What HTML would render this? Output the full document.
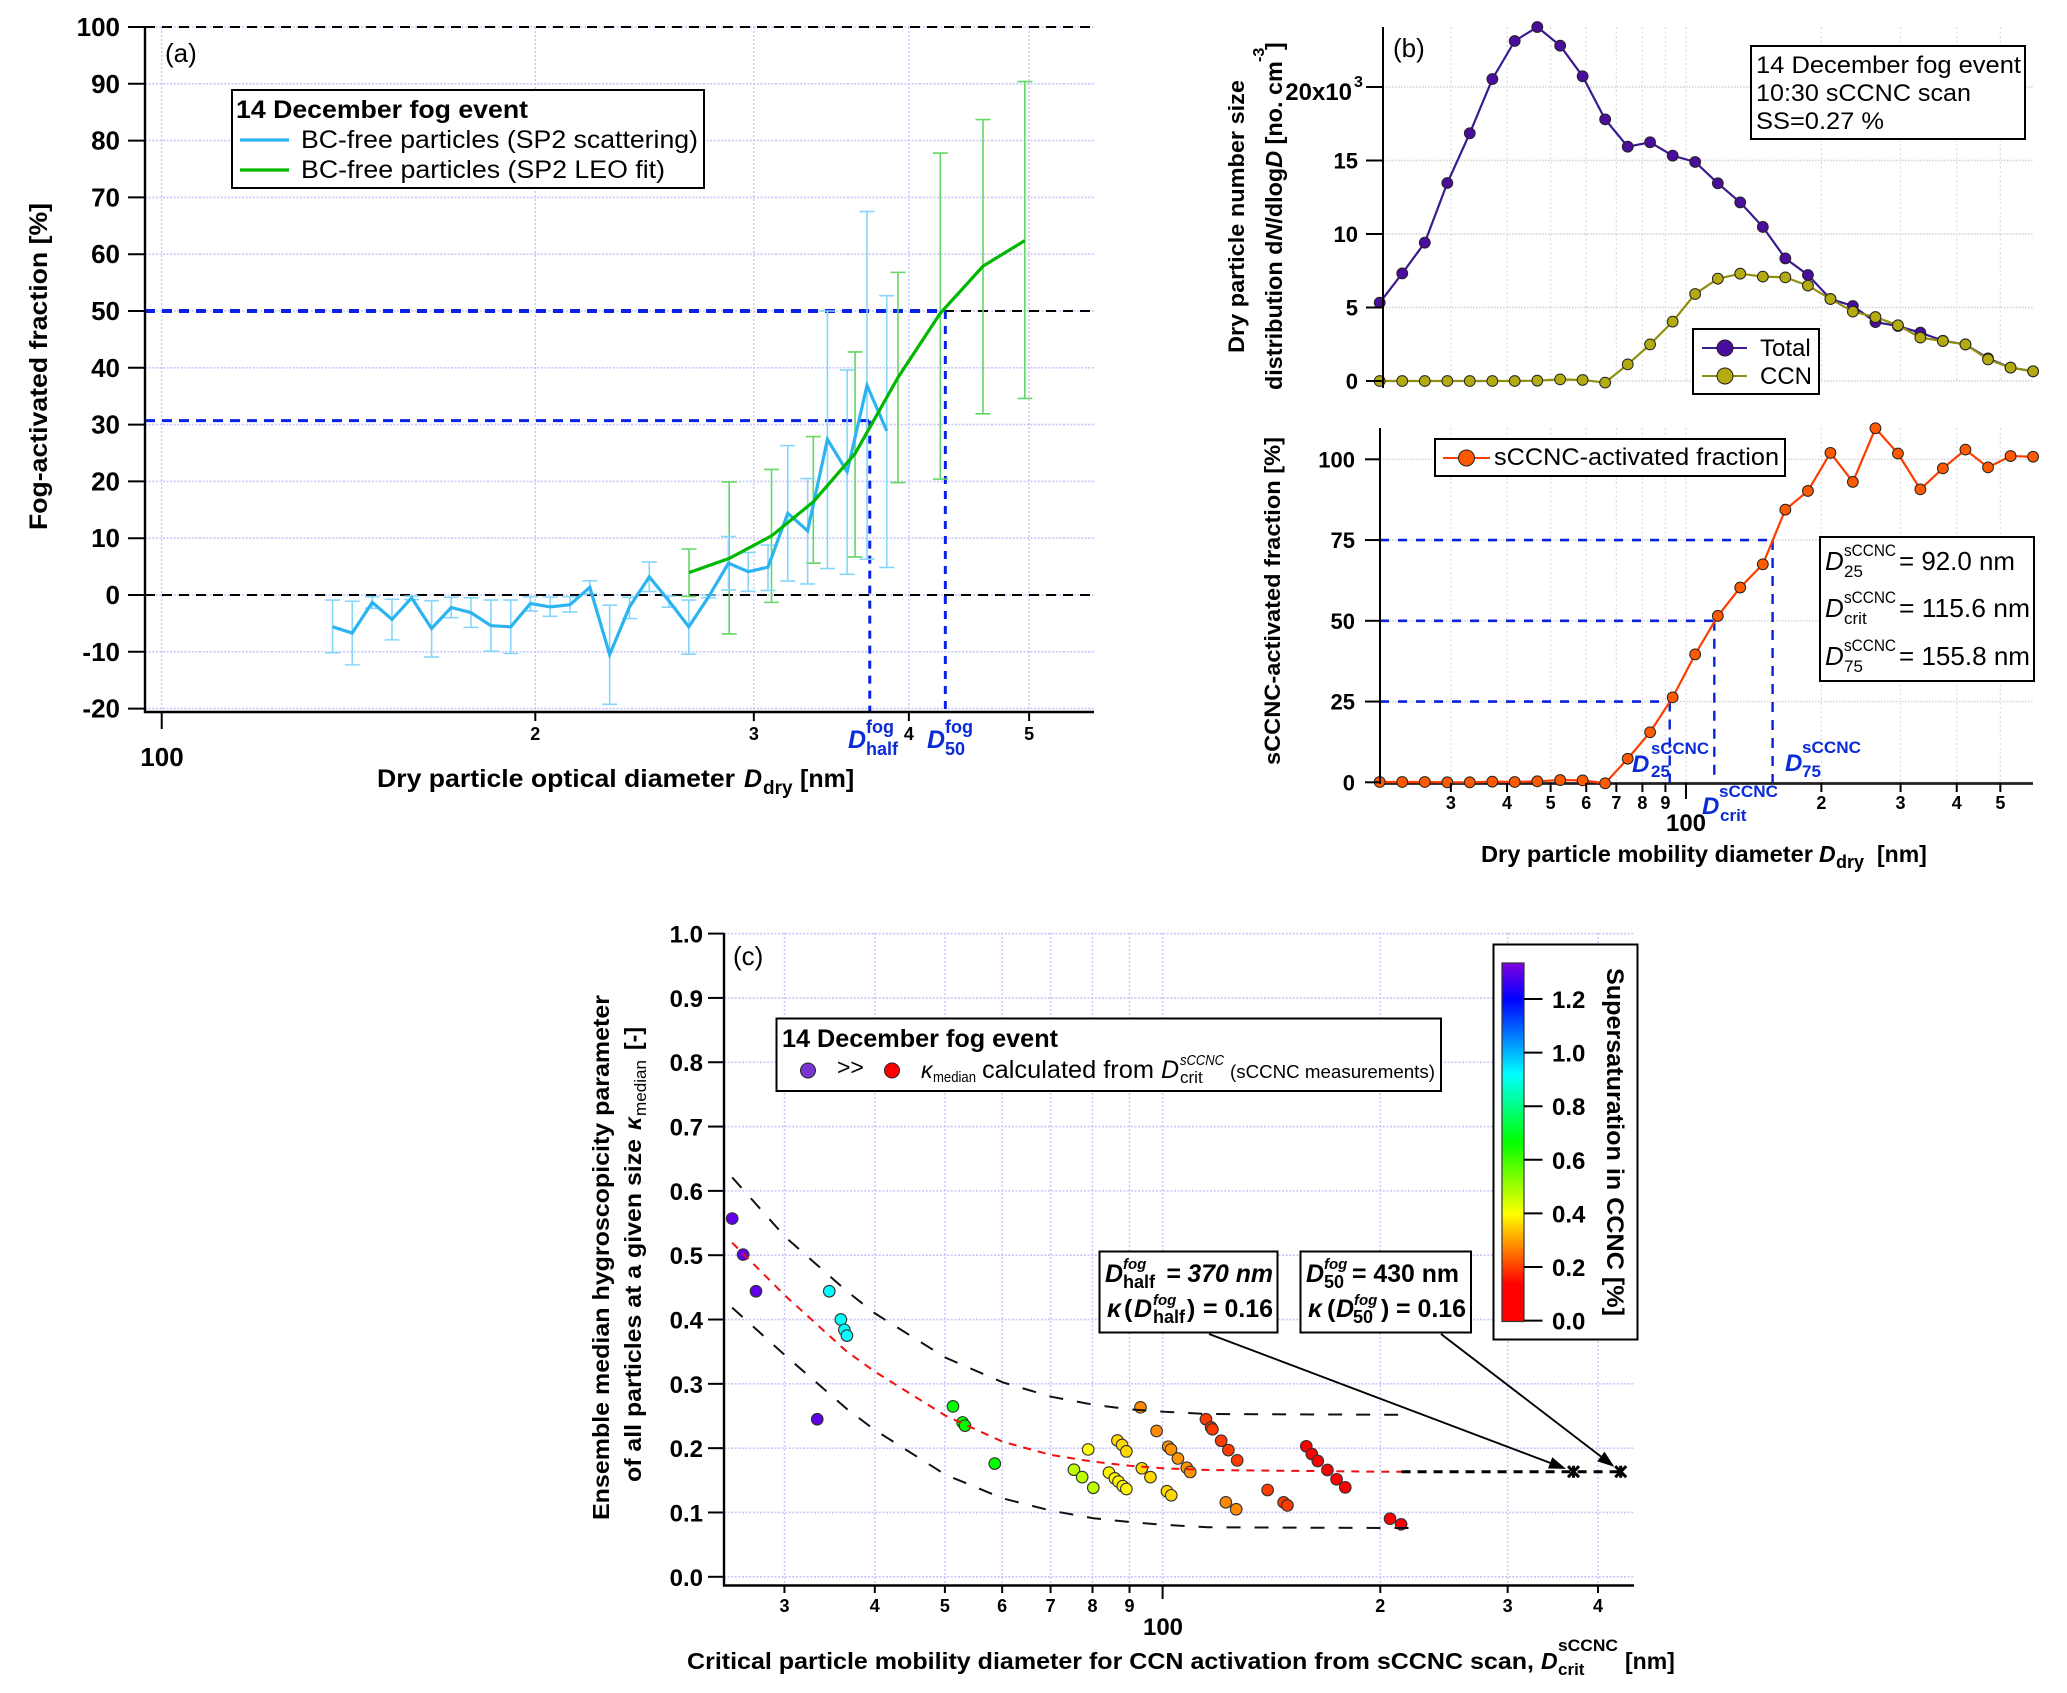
<!DOCTYPE html>
<html lang="en">
<head>
<meta charset="utf-8">
<title>Fog activation figure</title>
<style>
html,body{margin:0;padding:0;background:#fff;}
svg{display:block;font-family:"Liberation Sans",sans-serif;fill:#000;}
.b{font-weight:bold;}
.i{font-style:italic;}
.bi{font-weight:bold;font-style:italic;}
.blue{fill:#0b2bd6;}
</style>
</head>
<body>
<svg id="fig" xmlns="http://www.w3.org/2000/svg" width="2067" height="1693" viewBox="0 0 2067 1693">
<defs>
<linearGradient id="ssGrad" x1="0" y1="1" x2="0" y2="0"></linearGradient>
</defs>
<rect x="0" y="0" width="2067" height="1693" fill="#fff"/>

<g id="panelA"></g>
<g id="panelB1"></g>
<g id="panelB2"></g>
<g id="panelC"></g>

<!-- panel (a) text -->
<g>
<text x="165" y="62" font-size="26">(a)</text>
<text class="b" font-size="25" transform="translate(47,530) rotate(-90)" textLength="327" lengthAdjust="spacingAndGlyphs">Fog-activated fraction [%]</text>
<text class="b" x="377" y="787" font-size="25" textLength="358" lengthAdjust="spacingAndGlyphs">Dry particle optical diameter</text>
<text class="bi" x="744" y="787" font-size="25">D</text>
<text class="b" x="763" y="794" font-size="19">dry</text>
<text class="b" x="800" y="787" font-size="25">[nm]</text>
<text class="b" x="162" y="766" font-size="26" text-anchor="middle">100</text>
<g class="blue">
<text class="bi" x="848" y="748" font-size="25">D</text>
<text class="b" x="866" y="733" font-size="18">fog</text>
<text class="b" x="866" y="755" font-size="18">half</text>
</g>
<g class="blue">
<text class="bi" x="927" y="748" font-size="25">D</text>
<text class="b" x="945" y="733" font-size="18">fog</text>
<text class="b" x="945" y="755" font-size="18">50</text>
</g>
</g>
<g>
<rect x="232" y="90" width="472" height="98" fill="#fff" stroke="#000" stroke-width="2"/>
<text class="b" x="236" y="118" font-size="25" textLength="292" lengthAdjust="spacingAndGlyphs">14 December fog event</text>
<line x1="240" x2="289" y1="140" y2="140" stroke="#2cb4f0" stroke-width="3.2"/>
<text x="301" y="148" font-size="25" textLength="397" lengthAdjust="spacingAndGlyphs">BC-free particles (SP2 scattering)</text>
<line x1="240" x2="289" y1="170" y2="170" stroke="#00b800" stroke-width="3.2"/>
<text x="301" y="178" font-size="25" textLength="364" lengthAdjust="spacingAndGlyphs">BC-free particles (SP2 LEO fit)</text>
</g>

<!-- panel (b) text -->
<g>
<text x="1393" y="57" font-size="26">(b)</text>
<text class="b" font-size="22" transform="translate(1244,353) rotate(-90)" textLength="273" lengthAdjust="spacingAndGlyphs">Dry particle number size</text>
<text class="b" font-size="23.4" transform="translate(1282,390) rotate(-90)">distribution d<tspan class="bi">N</tspan>/dlog<tspan class="bi">D</tspan> [no. cm</text>
<text class="b" font-size="16" transform="translate(1264,62) rotate(-90)">-3</text>
<text class="b" font-size="23" transform="translate(1282,50) rotate(-90)">]</text>
<text class="b" font-size="22" transform="translate(1280,765) rotate(-90)" textLength="328" lengthAdjust="spacingAndGlyphs">sCCNC-activated fraction [%]</text>
<text class="b" x="1481" y="862" font-size="23" textLength="332" lengthAdjust="spacingAndGlyphs">Dry particle mobility diameter</text>
<text class="bi" x="1819" y="862" font-size="23">D</text>
<text class="b" x="1836" y="868" font-size="18">dry</text>
<text class="b" x="1877" y="862" font-size="23">[nm]</text>
<text class="b" x="1686" y="831" font-size="24" text-anchor="middle">100</text>
<g class="blue">
<text class="bi" x="1632" y="772" font-size="24">D</text>
<text class="b" x="1651" y="754" font-size="17" textLength="58" lengthAdjust="spacingAndGlyphs">sCCNC</text>
<text class="b" x="1651" y="777" font-size="17">25</text>
</g>
<g class="blue">
<text class="bi" x="1702" y="814" font-size="24">D</text>
<text class="b" x="1719" y="797" font-size="17" textLength="59" lengthAdjust="spacingAndGlyphs">sCCNC</text>
<text class="b" x="1720" y="821" font-size="17">crit</text>
</g>
<g class="blue">
<text class="bi" x="1785" y="771" font-size="24">D</text>
<text class="b" x="1802" y="753" font-size="17" textLength="59" lengthAdjust="spacingAndGlyphs">sCCNC</text>
<text class="b" x="1802" y="777" font-size="17">75</text>
</g>
</g>
<g>
<rect x="1751" y="46" width="274" height="93" fill="#fff" stroke="#000" stroke-width="2"/>
<text x="1756" y="73" font-size="24" textLength="265" lengthAdjust="spacingAndGlyphs">14 December fog event</text>
<text x="1756" y="101" font-size="24" textLength="215" lengthAdjust="spacingAndGlyphs">10:30 sCCNC scan</text>
<text x="1756" y="129" font-size="24" textLength="128" lengthAdjust="spacingAndGlyphs">SS=0.27 %</text>
</g>
<g>
<rect x="1693" y="329" width="126" height="65" fill="#fff" stroke="#000" stroke-width="2"/>
<line x1="1702" x2="1747" y1="348" y2="348" stroke="#3b1a90" stroke-width="2"/>
<circle cx="1725" cy="348" r="8" fill="#4a0d9e" stroke="#222" stroke-width="1"/>
<text x="1760" y="356" font-size="24">Total</text>
<line x1="1702" x2="1747" y1="376" y2="376" stroke="#8f8f10" stroke-width="2"/>
<circle cx="1725" cy="376" r="8" fill="#b3ab10" stroke="#222" stroke-width="1"/>
<text x="1760" y="384" font-size="24">CCN</text>
</g>
<g>
<rect x="1435" y="439" width="350" height="37" fill="#fff" stroke="#000" stroke-width="2"/>
<line x1="1443" x2="1490" y1="458" y2="458" stroke="#ff3c00" stroke-width="2"/>
<circle cx="1466.5" cy="458" r="8" fill="#ff5a00" stroke="#222" stroke-width="1"/>
<text x="1494" y="465" font-size="24" textLength="285" lengthAdjust="spacingAndGlyphs">sCCNC-activated fraction</text>
</g>
<g>
<rect x="1820" y="537" width="214" height="144" fill="#fff" stroke="#000" stroke-width="2"/>
<g>
<text class="i" x="1825" y="570" font-size="26">D</text>
<text x="1844" y="556" font-size="17" textLength="52" lengthAdjust="spacingAndGlyphs">sCCNC</text>
<text x="1844" y="577" font-size="17">25</text>
<text x="1899" y="570" font-size="26" textLength="116" lengthAdjust="spacingAndGlyphs">= 92.0 nm</text>
</g>
<g>
<text class="i" x="1825" y="617" font-size="26">D</text>
<text x="1844" y="603" font-size="17" textLength="52" lengthAdjust="spacingAndGlyphs">sCCNC</text>
<text x="1844" y="624" font-size="17">crit</text>
<text x="1899" y="617" font-size="26" textLength="131" lengthAdjust="spacingAndGlyphs">= 115.6 nm</text>
</g>
<g>
<text class="i" x="1825" y="665" font-size="26">D</text>
<text x="1844" y="651" font-size="17" textLength="52" lengthAdjust="spacingAndGlyphs">sCCNC</text>
<text x="1844" y="672" font-size="17">75</text>
<text x="1899" y="665" font-size="26" textLength="131" lengthAdjust="spacingAndGlyphs">= 155.8 nm</text>
</g>
</g>

<!-- panel (c) text -->
<g>
<text x="733" y="965" font-size="26">(c)</text>
<text class="b" font-size="23" transform="translate(609,1520) rotate(-90)" textLength="525" lengthAdjust="spacingAndGlyphs">Ensemble median hygroscopicity parameter</text>
<text class="b" font-size="23" transform="translate(641,1482) rotate(-90)" textLength="343" lengthAdjust="spacingAndGlyphs">of all particles at a given size</text>
<text class="bi" font-size="23" transform="translate(641,1130) rotate(-90)">κ</text>
<text font-size="17" transform="translate(646,1116) rotate(-90)" textLength="56" lengthAdjust="spacingAndGlyphs">median</text>
<text class="b" font-size="23" transform="translate(641,1050) rotate(-90)">[-]</text>
<text class="b" x="687" y="1669" font-size="23" textLength="847" lengthAdjust="spacingAndGlyphs">Critical particle mobility diameter for CCN activation from sCCNC scan,</text>
<text class="bi" x="1541" y="1669" font-size="23">D</text>
<text class="b" x="1558" y="1651" font-size="17" textLength="60" lengthAdjust="spacingAndGlyphs">sCCNC</text>
<text class="b" x="1558" y="1675" font-size="17">crit</text>
<text class="b" x="1625" y="1669" font-size="23">[nm]</text>
<text class="b" x="1163" y="1635" font-size="24" text-anchor="middle">100</text>
</g>
<g>
<rect x="776.5" y="1018.5" width="664.5" height="72.5" fill="#fff" stroke="#000" stroke-width="2"/>
<text class="b" x="782" y="1047" font-size="25" textLength="276" lengthAdjust="spacingAndGlyphs">14 December fog event</text>
<circle cx="808" cy="1070.5" r="7.5" fill="#7b35d0" stroke="#222" stroke-width="1"/>
<text x="837" y="1075" font-size="23">&gt;&gt;</text>
<circle cx="892" cy="1070.5" r="7.5" fill="#ff0000" stroke="#222" stroke-width="1"/>
<text class="i" x="921" y="1078" font-size="23">κ</text>
<text x="933" y="1082" font-size="15" textLength="43" lengthAdjust="spacingAndGlyphs">median</text>
<text x="982" y="1078" font-size="25" textLength="172" lengthAdjust="spacingAndGlyphs">calculated from</text>
<text class="i" x="1161" y="1078" font-size="25">D</text>
<text class="i" x="1180" y="1065" font-size="15" textLength="44" lengthAdjust="spacingAndGlyphs">sCCNC</text>
<text x="1180" y="1083" font-size="17">crit</text>
<text x="1230" y="1078" font-size="18" textLength="205" lengthAdjust="spacingAndGlyphs">(sCCNC measurements)</text>
</g>

<g id="panelCTop"></g>

<g>
<rect x="1099.5" y="1251.5" width="178" height="81" fill="#fff" stroke="#000" stroke-width="2"/>
<text class="bi" x="1105" y="1282" font-size="25">D</text>
<text class="bi" x="1123" y="1269" font-size="15">fog</text>
<text class="b" x="1123" y="1288" font-size="18">half</text>
<text class="bi" x="1166" y="1282" font-size="25" textLength="107" lengthAdjust="spacingAndGlyphs">= 370 nm</text>
<text class="bi" x="1107" y="1317" font-size="25">κ</text>
<text class="b" x="1124" y="1317" font-size="25">(</text>
<text class="bi" x="1134" y="1317" font-size="25">D</text>
<text class="bi" x="1153" y="1305" font-size="15">fog</text>
<text class="b" x="1153" y="1323" font-size="18">half</text>
<text class="b" x="1187" y="1317" font-size="25">)</text>
<text class="b" x="1203" y="1317" font-size="25" textLength="70" lengthAdjust="spacingAndGlyphs">= 0.16</text>
</g>
<g>
<rect x="1300.5" y="1251.5" width="170.5" height="81" fill="#fff" stroke="#000" stroke-width="2"/>
<text class="bi" x="1306" y="1282" font-size="25">D</text>
<text class="bi" x="1324" y="1269" font-size="15">fog</text>
<text class="b" x="1324" y="1288" font-size="18">50</text>
<text class="b" x="1352" y="1282" font-size="25" textLength="107" lengthAdjust="spacingAndGlyphs">= 430 nm</text>
<text class="bi" x="1308" y="1317" font-size="25">κ</text>
<text class="b" x="1327" y="1317" font-size="25">(</text>
<text class="bi" x="1336" y="1317" font-size="25">D</text>
<text class="bi" x="1354" y="1305" font-size="15">fog</text>
<text class="b" x="1353" y="1323" font-size="18">50</text>
<text class="b" x="1381" y="1317" font-size="25">)</text>
<text class="b" x="1396" y="1317" font-size="25" textLength="70" lengthAdjust="spacingAndGlyphs">= 0.16</text>
</g>

<g>
<rect x="1493.5" y="944.5" width="144" height="395" fill="#fff" stroke="#000" stroke-width="2"/>
<rect x="1502" y="963" width="22" height="358.5" fill="url(#ssGrad)" stroke="#333" stroke-width="1.2"/>
<g id="cbarTicks"></g>
<text class="b" font-size="24" transform="translate(1607,968) rotate(90)" textLength="348" lengthAdjust="spacingAndGlyphs">Supersaturation in CCNC [%]</text>
</g>
</svg>

<script>
// ---------- Panel (a) data ----------
const aYTicks = [-20,-10,0,10,20,30,40,50,60,70,80,90,100];
const aXTicks = [100,200,300,400,500];
const aXTickLabels = ['','2','3','4','5'];
const blueDiam = [137.3,142.4,147.8,153.3,159.0,165.0,171.1,177.5,184.2,191.1,198.2,205.6,213.3,221.3,229.6,238.2,247.1,256.3,265.9,275.9,286.2,296.9,308.0,319.5,331.5,343.9,356.7,370.1,383.9];
const blueVal  = [-5.6,-6.7,-1.3,-4.3,-0.5,-5.9,-2.2,-3.1,-5.4,-5.6,-1.5,-2.1,-1.7,1.35,-10.5,-2.1,3.2,-1.05,-5.6,-0.3,5.6,4.1,4.9,14.4,11.3,27.4,21.7,36.9,28.9];
const blueHigh = [-0.9,-1.1,-0.3,-0.75,-0.2,-1,-0.4,-0.5,-0.9,-0.9,-0.3,-0.35,-0.3,2.5,-1.8,-0.4,5.8,-0.2,-0.9,0,10.3,7.5,8.8,26.3,20.5,50,39.6,67.5,52.7];
const blueLow  = [-10.15,-12.3,-2.35,-7.9,-0.8,-10.9,-4,-5.7,-9.9,-10.3,-2.8,-3.75,-3,0.2,-19.25,-4.15,0.6,-2.15,-10.4,-0.5,0.9,0.65,0.8,2.45,1.95,4.65,3.65,6.3,4.85];
const greenDiam = [266,286.6,310,335,362,392,424,459,496];
const greenVal  = [3.93,6.45,10.4,16.4,24.9,38.3,49.6,57.9,62.4];
const greenHigh = [8.1,19.9,22.1,27.9,42.8,56.8,77.8,83.7,90.4];
const greenLow  = [-0.25,-6.85,-1.3,5.6,6.7,19.8,20.4,31.9,34.6];
const aBlackLevels = [100,50,0];
const aFogLevels = [50,30.7];
const aFogDiams = [428,372];

// ---------- Panel (b) data ----------
const bDiam = [20.84,23.39,26.25,29.46,33.05,37.1,41.6,46.7,52.5,58.9,66.1,74.2,83.2,93.4,104.8,117.7,132,148.2,166.3,186.7,209.5,235,263.8,296,332,372.6,418.2,469.5,526.9,591.3];
const totalConc = [5.33,7.32,9.41,13.47,16.85,20.54,23.13,24.08,22.81,20.73,17.8,15.94,16.24,15.33,14.9,13.45,12.15,10.48,8.34,7.21,5.58,5.1,4.01,3.74,3.29,2.74,2.49,1.54,0.91,0.66];
const ccnConc = [0,0,0,0,0,0,0,0.02,0.11,0.07,-0.11,1.13,2.49,4.04,5.92,6.96,7.3,7.1,7.05,6.49,5.58,4.72,4.35,3.79,2.95,2.72,2.49,1.47,0.91,0.66];
const activated = [0.1,0.1,0.1,0,0,0.2,0.1,0.3,0.7,0.6,-0.3,7.3,15.5,26.3,39.6,51.5,60.3,67.5,84.4,90.2,102,93,109.6,101.8,90.7,97.2,103,97.5,101,100.8];
const bUpperYTicks = [0,5,10,15,20];
const bUpperYLabels = ['0','5','10','15','20x10'];
const bLowerYTicks = [0,25,50,75,100];
const bXTicks = [30,40,50,60,70,80,90,100,200,300,400,500];
const bXTickLabels = ['3','4','5','6','7','8','9','','2','3','4','5'];
const bFracLevels = [75,50,25];
const bFracDiams = [155.8,115.6,92.0];

// ---------- Panel (c) data ----------
const cYTicks = [0,0.1,0.2,0.3,0.4,0.5,0.6,0.7,0.8,0.9,1.0];
const cYLabels = ['0.0','0.1','0.2','0.3','0.4','0.5','0.6','0.7','0.8','0.9','1.0'];
const cXTicks = [30,40,50,60,70,80,90,100,200,300,400];
const cXTickLabels = ['3','4','5','6','7','8','9','','2','3','4'];
const critDiam = [25.4,26.3,27.4,33.3,34.6,35.9,36.3,36.6,51.3,52.9,53.3,58.6,75.4,77.4,80.2,78.9,86.6,87.9,89.1,84.3,85.9,86.9,88.1,89.1,93.2,93.6,96.2,98.1,101.4,102.8,101.8,102.7,105,108,109.2,114.8,116.7,117.2,120.5,123.3,126.8,122.3,126.4,139.7,147,148.8,158,160.8,163.9,169,174,178.9,206.3,213.7];
const kappaVal = [0.557,0.501,0.444,0.245,0.444,0.400,0.384,0.375,0.265,0.240,0.235,0.176,0.1665,0.155,0.1385,0.198,0.212,0.205,0.195,0.162,0.153,0.148,0.141,0.1365,0.2635,0.1687,0.155,0.2267,0.133,0.1267,0.2023,0.198,0.184,0.1696,0.163,0.245,0.2324,0.2293,0.2116,0.197,0.181,0.1158,0.105,0.135,0.1158,0.111,0.2029,0.191,0.18,0.166,0.1516,0.139,0.0903,0.0816];
const ssVal = [1.3,1.3,1.3,1.3,0.92,0.92,0.92,0.92,0.67,0.67,0.67,0.67,0.47,0.47,0.47,0.4,0.36,0.36,0.36,0.39,0.39,0.39,0.39,0.39,0.28,0.36,0.36,0.28,0.36,0.36,0.29,0.29,0.29,0.29,0.29,0.2,0.2,0.2,0.2,0.2,0.2,0.28,0.28,0.2,0.2,0.2,0.08,0.08,0.08,0.08,0.08,0.08,0.08,0.08];
const fitDiam  = [25.4,30.1,36.6,40,50.1,60.1,70.1,80.2,90,100,115.6,200,219.6];
const fitMid   = [0.5194,0.4366,0.35,0.319,0.2505,0.21,0.1894,0.179,0.1727,0.1687,0.166,0.1634,0.1634];
const fitUpper = [0.621,0.528,0.444,0.4097,0.3407,0.3024,0.28,0.2676,0.2604,0.2567,0.2531,0.252,0.252];
const fitLower = [0.4185,0.3438,0.2609,0.2282,0.1587,0.122,0.1028,0.091,0.0852,0.081,0.077,0.0759,0.0759];
const extendDiam = [214,432];
const extendKappa = [0.1634,0.1634];
const fogDiam = [370,430];
const fogKappa = [0.1634,0.1634];
const calloutStartX = [1209,1441];
const calloutStartY = [1334,1334];
const cbarTicks = [0,0.2,0.4,0.6,0.8,1.0,1.2];
const cbarLabels = ['0.0','0.2','0.4','0.6','0.8','1.0','1.2'];
const ssStops = [0,0.14,0.4,0.67,0.92,1.2,1.335];
const ssRGB = [[255,0,0],[255,0,0],[255,255,0],[0,255,0],[0,255,255],[0,0,255],[130,0,225]];

// ---------- Axis functions ----------
const ax = d => 535.3 + 1241*Math.log10(d/200);
const ay = v => 595 - 5.68*v;
const bx = d => 1686 + 449.7*Math.log10(d/100);
const by1 = v => 381 - 14.7*v;
const by2 = v => 782.3 - 3.23*v;
const cx = d => 1162.6 + 723.2*Math.log10(d/100);
const cy = k => 1576.8 - 643.2*k;
const cbarY = s => 1320.6 - 268*s;

const NS = 'http://www.w3.org/2000/svg';
function el(tag, parent, attrs, text){
  const e = document.createElementNS(NS, tag);
  for (const k in attrs) e.setAttribute(k, attrs[k]);
  if (text !== undefined) e.textContent = text;
  parent.appendChild(e);
  return e;
}
function pts(xs, ys, fx, fy){
  return xs.map((x,i) => fx(x).toFixed(2)+','+fy(ys[i]).toFixed(2)).join(' ');
}
function ssColor(s){
  let i = 0;
  while (i < ssStops.length-2 && s > ssStops[i+1]) i++;
  const t = Math.max(0, Math.min(1, (s-ssStops[i])/(ssStops[i+1]-ssStops[i])));
  const c = ssRGB[i].map((v,j) => Math.round(v + (ssRGB[i+1][j]-v)*t));
  return 'rgb('+c.join(',')+')';
}

const GRID_BLUE = '#c6c6fb';
const GRID_GREY = '#d4d4d4';

// ---------- Panel (a) ----------
(function(){
  const g = document.getElementById('panelA');
  aYTicks.forEach(v => {
    const l = el('line', g, {x1:145,x2:1094,y1:ay(v),y2:ay(v),stroke:GRID_BLUE,'stroke-width':1.6,'stroke-dasharray':'2 1.6'});
    
    
  });
  aXTicks.forEach(d => {
    const l = el('line', g, {x1:ax(d),x2:ax(d),y1:27,y2:712,stroke:GRID_BLUE,'stroke-width':1.4,'stroke-dasharray':'2 2'});
    
    
  });
  aBlackLevels.forEach(v => {
    const l = el('line', g, {x1:145,x2:1094,y1:ay(v),y2:ay(v),stroke:'#000','stroke-width':2,'stroke-dasharray':'10 7'});
    
    
  });
  aFogLevels.forEach((v,i) => {
    const w = i === 0 ? 4 : 3;
    const h = el('line', g, {x1:145,x2:ax(aFogDiams[i]),y1:ay(v),y2:ay(v),stroke:'#0a22e8','stroke-width':w,'stroke-dasharray':'10 7'});
    
    
    const vl = el('line', g, {x1:ax(aFogDiams[i]),x2:ax(aFogDiams[i]),y1:ay(v),y2:712,stroke:'#0a22e8','stroke-width':3,'stroke-dasharray':'8 7'});
    
    
  });
  // error bars
  greenDiam.forEach((d,i) => {
    const x = ax(d);
    const e = el('path', g, {d:'M'+x+' '+ay(greenHigh[i])+'V'+ay(greenLow[i])+'M'+(x-7.5)+' '+ay(greenHigh[i])+'h15M'+(x-7.5)+' '+ay(greenLow[i])+'h15',stroke:'#62d862','stroke-width':1.6,fill:'none'});
    
    
  });
  blueDiam.forEach((d,i) => {
    const x = ax(d);
    const e = el('path', g, {d:'M'+x+' '+ay(blueHigh[i])+'V'+ay(blueLow[i])+'M'+(x-7.5)+' '+ay(blueHigh[i])+'h15M'+(x-7.5)+' '+ay(blueLow[i])+'h15',stroke:'#86d6fa','stroke-width':1.6,fill:'none'});
    
    
  });
  const s1 = el('polyline', g, {points:pts(blueDiam,blueVal,ax,ay),fill:'none',stroke:'#2cb4f0','stroke-width':3.2,'stroke-linejoin':'miter'});
  
  
  const s2 = el('polyline', g, {points:pts(greenDiam,greenVal,ax,ay),fill:'none',stroke:'#00b800','stroke-width':3.2});
  
  
  // axes
  const a1 = el('line', g, {x1:145,x2:145,y1:26,y2:713,stroke:'#000','stroke-width':2.4});
  
  
  const a2 = el('line', g, {x1:144,x2:1094,y1:712,y2:712,stroke:'#000','stroke-width':2.4});
  
  
  aYTicks.forEach(v => {
    const t = el('line', g, {x1:128,x2:145,y1:ay(v),y2:ay(v),stroke:'#000','stroke-width':2});
    
    
    const lb = el('text', g, {x:120,y:ay(v)+9,'text-anchor':'end','font-size':26,'class':'b'}, String(v));
    
    
  });
  aXTicks.forEach((d,i) => {
    const t = el('line', g, {x1:ax(d),x2:ax(d),y1:712,y2:i===0?729:721,stroke:'#000','stroke-width':2});
    
    
    const lb = el('text', g, {x:ax(d),y:740,'text-anchor':'middle','font-size':18,'class':'b'}, aXTickLabels[i]);
    
    
  });
})();

// ---------- Panel (b) upper ----------
(function(){
  const g = document.getElementById('panelB1');
  bUpperYTicks.forEach(v => {
    const l = el('line', g, {x1:1383,x2:2034,y1:by1(v),y2:by1(v),stroke:GRID_GREY,'stroke-width':1.5,'stroke-dasharray':'1.6 1.4'});
    
    
  });
  bXTicks.forEach(d => {
    const l = el('line', g, {x1:bx(d),x2:bx(d),y1:27,y2:381,stroke:'#dedede','stroke-width':1.3,'stroke-dasharray':'2 2.5'});
    
    
  });
  const l1 = el('polyline', g, {points:pts(bDiam,totalConc,bx,by1),fill:'none',stroke:'#3b1a90','stroke-width':2.2});
  
  
  bDiam.forEach((d,i) => {
    const c = el('circle', g, {cx:bx(d),cy:by1(totalConc[i]),r:5.4,fill:'#4a0d9e',stroke:'#222','stroke-width':1});
    
    
  });
  const l2 = el('polyline', g, {points:pts(bDiam,ccnConc,bx,by1),fill:'none',stroke:'#8f8f10','stroke-width':2.2});
  
  
  bDiam.forEach((d,i) => {
    const c = el('circle', g, {cx:bx(d),cy:by1(ccnConc[i]),r:5.4,fill:'#b3ab10',stroke:'#222','stroke-width':1});
    
    
  });
  const a = el('line', g, {x1:1383,x2:1383,y1:27,y2:388,stroke:'#000','stroke-width':2});
  
  
  bUpperYTicks.forEach((v,i) => {
    const t = el('line', g, {x1:1366,x2:1383,y1:by1(v),y2:by1(v),stroke:'#000','stroke-width':2});
    
    
    const last = i === bUpperYTicks.length-1;
    const lb = el('text', g, {x:last?1352:1358,y:by1(v)+(last?13:8),'text-anchor':'end','font-size':last?24:22,'class':'b'}, bUpperYLabels[i]);
    
    
  });
  const exp = el('text', g, {x:1354,y:by1(20),'font-size':16,'class':'b'}, '3');
  
  
})();

// ---------- Panel (b) lower ----------
(function(){
  const g = document.getElementById('panelB2');
  bLowerYTicks.forEach(v => {
    const l = el('line', g, {x1:1380,x2:2034,y1:by2(v),y2:by2(v),stroke:GRID_GREY,'stroke-width':1.3,'stroke-dasharray':'1.6 1.4'});
    
    
  });
  bXTicks.forEach(d => {
    const l = el('line', g, {x1:bx(d),x2:bx(d),y1:428,y2:783,stroke:'#dedede','stroke-width':1.3,'stroke-dasharray':'2 2.5'});
    
    
  });
  bFracLevels.forEach((v,i) => {
    const h = el('line', g, {x1:1380,x2:bx(bFracDiams[i]),y1:by2(v),y2:by2(v),stroke:'#0a22d8','stroke-width':2.6,'stroke-dasharray':'9 9'});
    
    
    const vl = el('line', g, {x1:bx(bFracDiams[i]),x2:bx(bFracDiams[i]),y1:by2(v),y2:783,stroke:'#0a22d8','stroke-width':2.4,'stroke-dasharray':'10 8'});
    
    
  });
  const a2 = el('line', g, {x1:1380,x2:2033,y1:783.5,y2:783.5,stroke:'#222','stroke-width':2.8});
  
  
  const l1 = el('polyline', g, {points:pts(bDiam,activated,bx,by2),fill:'none',stroke:'#ff3c00','stroke-width':2.2});
  
  
  bDiam.forEach((d,i) => {
    const c = el('circle', g, {cx:bx(d),cy:by2(activated[i]),r:5.4,fill:'#ff5a00',stroke:'#222','stroke-width':1});
    
    
  });
  const a = el('line', g, {x1:1380,x2:1380,y1:428,y2:784,stroke:'#000','stroke-width':2});
  
  
  bLowerYTicks.forEach(v => {
    const t = el('line', g, {x1:1365,x2:1380,y1:by2(v),y2:by2(v),stroke:'#000','stroke-width':2});
    
    
    const lb = el('text', g, {x:1355,y:by2(v)+8,'text-anchor':'end','font-size':22,'class':'b'}, String(v));
    
    
  });
  bXTicks.forEach((d,i) => {
    const t = el('line', g, {x1:bx(d),x2:bx(d),y1:783,y2:bXTickLabels[i]===''?799:792,stroke:'#000','stroke-width':2});
    
    
    const lb = el('text', g, {x:bx(d),y:809,'text-anchor':'middle','font-size':18,'class':'b'}, bXTickLabels[i]);
    
    
  });
})();

// ---------- Panel (c) ----------
(function(){
  const g = document.getElementById('panelC');
  cYTicks.forEach(v => {
    const l = el('line', g, {x1:724,x2:1634,y1:cy(v),y2:cy(v),stroke:GRID_BLUE,'stroke-width':1.6,'stroke-dasharray':'2 1.6'});
    
    
  });
  cXTicks.forEach(d => {
    const l = el('line', g, {x1:cx(d),x2:cx(d),y1:933,y2:1585,stroke:GRID_BLUE,'stroke-width':1.4,'stroke-dasharray':'2 2'});
    
    
  });
  critDiam.forEach((d,i) => {
    const c = el('circle', g, {cx:cx(d),cy:cy(kappaVal[i]),r:5.8,fill:ssColor(ssVal[i]),stroke:'#333','stroke-width':1.1});
    
    
  });
  const up = el('polyline', g, {points:pts(fitDiam,fitUpper,cx,cy),fill:'none',stroke:'#111','stroke-width':2,'stroke-dasharray':'14 14'});
  
  
  const lo = el('polyline', g, {points:pts(fitDiam,fitLower,cx,cy),fill:'none',stroke:'#111','stroke-width':2,'stroke-dasharray':'14 14'});
  
  
  const mid = el('polyline', g, {points:pts(fitDiam,fitMid,cx,cy),fill:'none',stroke:'#f01010','stroke-width':2,'stroke-dasharray':'8 7'});
  
  
  const ext = el('polyline', g, {points:pts(extendDiam,extendKappa,cx,cy),fill:'none',stroke:'#000','stroke-width':3,'stroke-dasharray':'9 7'});
  
  
  // axes
  const a1 = el('line', g, {x1:724,x2:724,y1:933,y2:1586,stroke:'#000','stroke-width':2.4});
  
  
  const a2 = el('line', g, {x1:723,x2:1634,y1:1585.5,y2:1585.5,stroke:'#000','stroke-width':2.4});
  
  
  cYTicks.forEach((v,i) => {
    const t = el('line', g, {x1:708,x2:724,y1:cy(v),y2:cy(v),stroke:'#000','stroke-width':2});
    
    
    const lb = el('text', g, {x:703,y:cy(v)+9,'text-anchor':'end','font-size':24,'class':'b'}, cYLabels[i]);
    
    
  });
  cXTicks.forEach((d,i) => {
    const t = el('line', g, {x1:cx(d),x2:cx(d),y1:1585,y2:cXTickLabels[i]===''?1599:1593,stroke:'#000','stroke-width':2});
    
    
    const lb = el('text', g, {x:cx(d),y:1612,'text-anchor':'middle','font-size':18,'class':'b'}, cXTickLabels[i]);
    
    
  });

  // fog stars + arrows
  const top = document.getElementById('panelCTop');
  fogDiam.forEach((d,i) => {
    const x = cx(d), y = cy(fogKappa[i]);
    const sx = calloutStartX[i], sy = calloutStartY[i];
    const ang = Math.atan2(y-sy, x-sx);
    const tipX = x - 8*Math.cos(ang), tipY = y - 8*Math.sin(ang);
    const baseX = tipX - 17*Math.cos(ang), baseY = tipY - 17*Math.sin(ang);
    const ln = el('line', top, {x1:sx,y1:sy,x2:baseX,y2:baseY,stroke:'#000','stroke-width':1.9});
    
    
    const px = -Math.sin(ang)*6, py = Math.cos(ang)*6;
    const hd = el('polygon', top, {points:tipX+','+tipY+' '+(baseX+px)+','+(baseY+py)+' '+(baseX-px)+','+(baseY-py),fill:'#000'});
    
    
    const st = el('path', top, {d:'M'+(x-5.5)+' '+(y-5.5)+'L'+(x+5.5)+' '+(y+5.5)+'M'+(x-5.5)+' '+(y+5.5)+'L'+(x+5.5)+' '+(y-5.5)+'M'+x+' '+(y-6)+'V'+(y+6),stroke:'#000','stroke-width':3,fill:'none'});
    
    
  });

  // colorbar
  const grad = document.getElementById('ssGrad');
  ssStops.forEach((s,i) => {
    const st = el('stop', grad, {offset:(s/ssStops[ssStops.length-1]),'stop-color':'rgb('+ssRGB[i].join(',')+')'});
    
    
  });
  const tg = document.getElementById('cbarTicks');
  cbarTicks.forEach((s,i) => {
    const t = el('line', tg, {x1:1524,x2:1542.5,y1:cbarY(s),y2:cbarY(s),stroke:'#000','stroke-width':2});
    
    
    const lb = el('text', tg, {x:1552,y:cbarY(s)+9,'font-size':24,'class':'b'}, cbarLabels[i]);
    
    
  });
})();
</script>
</body>
</html>
